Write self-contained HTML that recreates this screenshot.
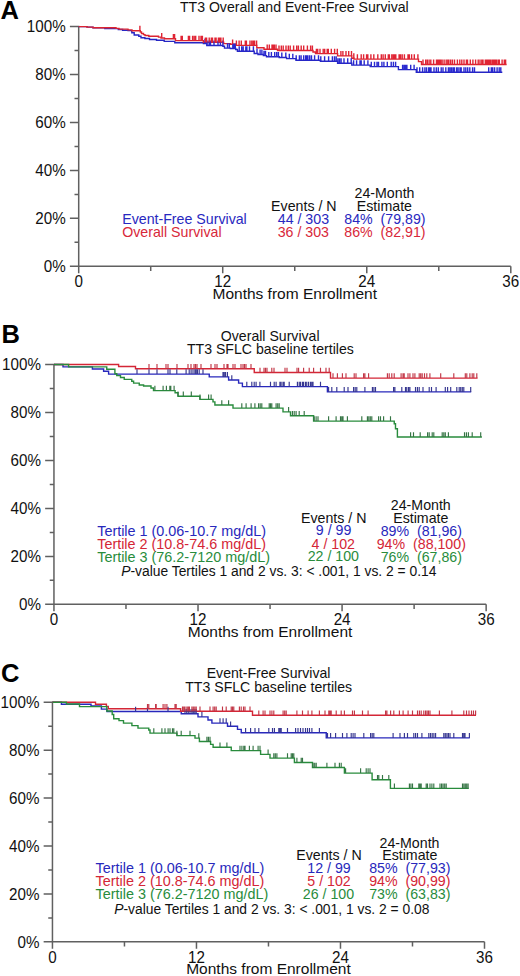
<!DOCTYPE html>
<html><head><meta charset="utf-8"><title>TT3 Survival</title>
<style>
html,body{margin:0;padding:0;background:#fff;}
body{width:520px;height:976px;overflow:hidden;}
svg{display:block;font-family:"Liberation Sans", sans-serif;}
</style></head>
<body>
<svg width="520" height="976" viewBox="0 0 520 976">
<rect width="520" height="976" fill="#fff"/>
<text x="0.4" y="18.6" font-size="25.5" text-anchor="start" fill="#000" font-weight="bold">A</text>
<text x="294.3" y="12.2" font-size="14.1" text-anchor="middle" fill="#111">TT3 Overall and Event-Free Survival</text>
<path d="M78.7,25.8V273.3 M69.9,266.3H510.8 M69.9,266.30H78.7 M74.5,242.33H78.7 M69.9,218.36H78.7 M74.5,194.39H78.7 M69.9,170.42H78.7 M74.5,146.45H78.7 M69.9,122.48H78.7 M74.5,98.51H78.7 M69.9,74.54H78.7 M74.5,50.57H78.7 M69.9,26.60H78.7 M78.70,266.3V273.3 M150.72,266.3V270.90000000000003 M222.73,266.3V273.3 M294.75,266.3V270.90000000000003 M366.77,266.3V273.3 M438.78,266.3V270.90000000000003 M510.80,266.3V273.3" stroke="#606060" stroke-width="1.5" fill="none"/>
<text transform="translate(65.7,272.05) scale(1,1.11)" font-size="15.2" text-anchor="end" fill="#111">0%</text>
<text transform="translate(65.7,224.11) scale(1,1.11)" font-size="15.2" text-anchor="end" fill="#111">20%</text>
<text transform="translate(65.7,176.17) scale(1,1.11)" font-size="15.2" text-anchor="end" fill="#111">40%</text>
<text transform="translate(65.7,128.23) scale(1,1.11)" font-size="15.2" text-anchor="end" fill="#111">60%</text>
<text transform="translate(65.7,80.29) scale(1,1.11)" font-size="15.2" text-anchor="end" fill="#111">80%</text>
<text transform="translate(65.7,32.35) scale(1,1.11)" font-size="15.2" text-anchor="end" fill="#111">100%</text>
<text transform="translate(78.70,287.00) scale(1,1.11)" font-size="15.2" text-anchor="middle" fill="#111">0</text>
<text transform="translate(222.73,287.00) scale(1,1.11)" font-size="15.2" text-anchor="middle" fill="#111">12</text>
<text transform="translate(366.77,287.00) scale(1,1.11)" font-size="15.2" text-anchor="middle" fill="#111">24</text>
<text transform="translate(510.80,287.00) scale(1,1.11)" font-size="15.2" text-anchor="middle" fill="#111">36</text>
<text x="294.75" y="298.50" font-size="15.5" text-anchor="middle" fill="#111">Months from Enrollment</text>
<path d="M78.7,26.6H87V27.1H93V27.8H104.8V28.6H118.3V29.5H122.6V30.3H128V30.6H131.8V32.8H134.2V35.0H138.8V36.2H141V37.8H144.9V38.5H149.5V39.5H156.5V40.2H164.2V41.4H174.8V42.7H203.4V43.6H206.8V45.5H222.9V46.3H224.5V48.1H230.4V48.5H235.7V49.5H237.4V51.2H254.2V53.5H258V54.5H263.4V55.6H266.5V56.8H279.2V57.5H286.6V58.6H296V60.2H320.4V61.2H337.6V63.2H351.8V65.1H370.2V66.6H398.4V69.6H416.3V72.2H502.3" stroke="#2626c4" stroke-width="1.4" fill="none" stroke-linejoin="miter"/>
<path d="M78.7,26.6H87V27.1H93V27.8H116V28.4H119V29.1H128V29.9H132V30.7H140.3V32.0H141.5V33.5H143.5V34.6H145V35.5H148.8V36.2H158.5V37.1H161V38.0H164.5V38.8H175.5V40.6H203.4V42.3H223.7V43.6H230.4V44.3H236V45.4H256.8V47.8H264V49.3H277.5V50.5H313V52.0H315.5V53.6H337.6V55.9H351.8V58.2H354V59.1H418.5V61.6H421.5V64.5H506.6" stroke="#dc2430" stroke-width="1.4" fill="none" stroke-linejoin="miter"/>
<path d="M205.0,43.60v-4.9 M207.0,45.50v-4.9 M209.1,45.50v-4.9 M210.5,45.50v-4.9 M214.0,45.50v-4.9 M218.0,45.50v-4.9 M220.4,45.50v-4.9 M222.9,45.50v-4.9 M227.5,48.10v-4.9 M229.3,48.10v-4.9 M232.8,48.50v-4.9 M234.2,48.50v-4.9 M235.3,48.50v-4.9 M239.2,51.20v-4.9 M241.7,51.20v-4.9 M243.2,51.20v-4.9 M245.8,51.20v-4.9 M246.9,51.20v-4.9 M249.5,51.20v-4.9 M253.4,51.20v-4.9 M257.0,53.50v-4.9 M260.1,54.50v-4.9 M261.9,54.50v-4.9 M264.0,55.60v-4.9 M265.5,55.60v-4.9 M268.8,56.80v-4.9 M271.4,56.80v-4.9 M274.7,56.80v-4.9 M276.7,56.80v-4.9 M278.4,56.80v-4.9 M281.8,57.50v-4.9 M285.8,57.50v-4.9 M289.3,58.60v-4.9 M292.8,58.60v-4.9 M296.2,60.20v-4.9 M299.4,60.20v-4.9 M301.1,60.20v-4.9 M303.7,60.20v-4.9 M305.7,60.20v-4.9 M306.8,60.20v-4.9 M307.9,60.20v-4.9 M309.7,60.20v-4.9 M311.5,60.20v-4.9 M314.6,60.20v-4.9 M318.5,60.20v-4.9 M320.8,61.20v-4.9 M324.6,61.20v-4.9 M328.6,61.20v-4.9 M332.4,61.20v-4.9 M334.5,61.20v-4.9 M336.2,61.20v-4.9 M337.9,63.20v-4.9 M339.5,63.20v-4.9 M341.1,63.20v-4.9 M344.0,63.20v-4.9 M347.7,63.20v-4.9 M351.2,63.20v-4.9 M353.6,65.10v-4.9 M356.6,65.10v-4.9 M360.0,65.10v-4.9 M361.2,65.10v-4.9 M364.2,65.10v-4.9 M367.9,65.10v-4.9 M371.3,66.60v-4.9 M374.5,66.60v-4.9 M377.0,66.60v-4.9 M378.5,66.60v-4.9 M381.9,66.60v-4.9 M383.9,66.60v-4.9 M387.3,66.60v-4.9 M391.2,66.60v-4.9 M393.4,66.60v-4.9 M395.6,66.60v-4.9 M402.6,69.60v-4.9 M404.1,69.60v-4.9 M405.5,69.60v-4.9 M406.9,69.60v-4.9 M410.7,69.60v-4.9 M414.1,69.60v-4.9 M417.0,72.20v-4.9 M419.7,72.20v-4.9 M422.6,72.20v-4.9 M424.9,72.20v-4.9 M426.6,72.20v-4.9 M428.7,72.20v-4.9 M430.0,72.20v-4.9 M431.0,72.20v-4.9 M434.0,72.20v-4.9 M436.3,72.20v-4.9 M438.3,72.20v-4.9 M441.2,72.20v-4.9 M443.0,72.20v-4.9 M445.8,72.20v-4.9 M448.4,72.20v-4.9 M449.9,72.20v-4.9 M451.4,72.20v-4.9 M453.0,72.20v-4.9 M454.4,72.20v-4.9 M456.6,72.20v-4.9 M458.1,72.20v-4.9 M460.0,72.20v-4.9 M461.2,72.20v-4.9 M464.0,72.20v-4.9 M465.8,72.20v-4.9 M467.7,72.20v-4.9 M469.8,72.20v-4.9 M472.6,72.20v-4.9 M474.5,72.20v-4.9 M488.7,72.20v-4.9 M491.3,72.20v-4.9 M492.7,72.20v-4.9 M494.6,72.20v-4.9 M497.1,72.20v-4.9 M499.2,72.20v-4.9 M500.8,72.20v-4.9" stroke="#2a2ad0" stroke-width="1.4" fill="none"/>
<path d="M139.9,30.70v-4.9 M161.7,38.00v-4.9 M173.4,38.80v-4.9 M174.6,38.80v-4.9 M181.1,40.60v-4.9 M182.3,40.60v-4.9 M188.4,40.60v-4.9 M189.6,40.60v-4.9 M192.6,40.60v-4.9 M194.2,40.60v-4.9 M195.7,40.60v-4.9 M199.0,40.60v-4.9 M201.0,40.60v-4.9 M202.4,40.60v-4.9 M205.4,42.30v-4.9 M206.6,42.30v-4.9 M209.2,42.30v-4.9 M211.3,42.30v-4.9 M212.5,42.30v-4.9 M215.0,42.30v-4.9 M216.1,42.30v-4.9 M218.4,42.30v-4.9 M219.6,42.30v-4.9 M220.9,42.30v-4.9 M223.2,42.30v-4.9 M232.6,44.30v-4.9 M236.4,45.40v-4.9 M239.1,45.40v-4.9 M241.3,45.40v-4.9 M245.3,45.40v-4.9 M246.4,45.40v-4.9 M250.0,45.40v-4.9 M251.8,45.40v-4.9 M253.3,45.40v-4.9 M254.6,45.40v-4.9 M256.6,45.40v-4.9 M267.2,49.30v-4.9 M269.3,49.30v-4.9 M272.0,49.30v-4.9 M273.2,49.30v-4.9 M274.3,49.30v-4.9 M276.0,49.30v-4.9 M279.0,50.50v-4.9 M281.3,50.50v-4.9 M283.2,50.50v-4.9 M286.0,50.50v-4.9 M288.3,50.50v-4.9 M290.2,50.50v-4.9 M293.6,50.50v-4.9 M296.7,50.50v-4.9 M298.4,50.50v-4.9 M301.2,50.50v-4.9 M303.7,50.50v-4.9 M307.4,50.50v-4.9 M310.6,50.50v-4.9 M312.4,50.50v-4.9 M316.4,53.60v-4.9 M317.7,53.60v-4.9 M320.0,53.60v-4.9 M323.2,53.60v-4.9 M324.7,53.60v-4.9 M327.2,53.60v-4.9 M328.3,53.60v-4.9 M331.3,53.60v-4.9 M334.6,53.60v-4.9 M337.3,53.60v-4.9 M340.9,55.90v-4.9 M342.9,55.90v-4.9 M346.0,55.90v-4.9 M348.7,55.90v-4.9 M351.5,55.90v-4.9 M353.8,58.20v-4.9 M357.4,59.10v-4.9 M361.2,59.10v-4.9 M363.6,59.10v-4.9 M366.6,59.10v-4.9 M367.8,59.10v-4.9 M370.9,59.10v-4.9 M373.8,59.10v-4.9 M377.8,59.10v-4.9 M381.3,59.10v-4.9 M383.1,59.10v-4.9 M385.3,59.10v-4.9 M388.3,59.10v-4.9 M389.4,59.10v-4.9 M391.8,59.10v-4.9 M393.3,59.10v-4.9 M394.6,59.10v-4.9 M395.8,59.10v-4.9 M399.1,59.10v-4.9 M400.5,59.10v-4.9 M402.2,59.10v-4.9 M404.4,59.10v-4.9 M408.0,59.10v-4.9 M409.3,59.10v-4.9 M411.6,59.10v-4.9 M414.3,59.10v-4.9 M417.9,59.10v-4.9 M423.0,64.50v-4.9 M425.7,64.50v-4.9 M427.3,64.50v-4.9 M429.1,64.50v-4.9 M430.8,64.50v-4.9 M433.6,64.50v-4.9 M436.5,64.50v-4.9 M437.8,64.50v-4.9 M439.2,64.50v-4.9 M440.6,64.50v-4.9 M442.1,64.50v-4.9 M444.1,64.50v-4.9 M446.2,64.50v-4.9 M447.8,64.50v-4.9 M448.8,64.50v-4.9 M450.6,64.50v-4.9 M452.4,64.50v-4.9 M454.5,64.50v-4.9 M457.4,64.50v-4.9 M459.8,64.50v-4.9 M461.8,64.50v-4.9 M464.0,64.50v-4.9 M466.4,64.50v-4.9 M467.5,64.50v-4.9 M470.3,64.50v-4.9 M472.9,64.50v-4.9 M475.6,64.50v-4.9 M478.2,64.50v-4.9 M480.0,64.50v-4.9 M481.8,64.50v-4.9 M483.0,64.50v-4.9 M485.3,64.50v-4.9 M486.4,64.50v-4.9 M487.5,64.50v-4.9 M488.9,64.50v-4.9 M490.3,64.50v-4.9 M491.9,64.50v-4.9 M493.1,64.50v-4.9 M494.1,64.50v-4.9 M495.4,64.50v-4.9 M496.6,64.50v-4.9 M498.3,64.50v-4.9 M499.3,64.50v-4.9 M502.1,64.50v-4.9 M504.3,64.50v-4.9 M505.6,64.50v-4.9" stroke="#e02434" stroke-width="1.4" fill="none"/>
<text x="122.2" y="224.1" font-size="14.2" text-anchor="start" fill="#2828c0">Event-Free Survival</text>
<text x="122.2" y="236.9" font-size="14.2" text-anchor="start" fill="#d8283a">Overall Survival</text>
<text x="303.85" y="210.7" font-size="14.2" text-anchor="middle" fill="#111">Events / N</text>
<text x="303.4" y="224.1" font-size="14.2" text-anchor="middle" fill="#2828c0">44 / 303</text>
<text x="303.3" y="237.0" font-size="14.2" text-anchor="middle" fill="#d8283a">36 / 303</text>
<text x="384.5" y="197.9" font-size="14.2" text-anchor="middle" fill="#111">24-Month</text>
<text x="384.4" y="210.8" font-size="14.2" text-anchor="middle" fill="#111">Estimate</text>
<text x="384.9" y="224.0" font-size="14.2" text-anchor="middle" fill="#2828c0">84%&#160;&#160;(79,89)</text>
<text x="384.9" y="237.0" font-size="14.2" text-anchor="middle" fill="#d8283a">86%&#160;&#160;(82,91)</text>
<text x="1.6" y="342.6" font-size="25.5" text-anchor="start" fill="#000" font-weight="bold">B</text>
<text x="270.2" y="340.5" font-size="14.1" text-anchor="middle" fill="#111">Overall Survival</text>
<text x="270.4" y="354.3" font-size="14.1" text-anchor="middle" fill="#111">TT3 SFLC baseline tertiles</text>
<path d="M53.95,363.7V611.35 M45.150000000000006,604.35H486.15 M45.150000000000006,604.35H53.95 M49.75,580.37H53.95 M45.150000000000006,556.38H53.95 M49.75,532.39H53.95 M45.150000000000006,508.41H53.95 M49.75,484.43H53.95 M45.150000000000006,460.44H53.95 M49.75,436.46H53.95 M45.150000000000006,412.47H53.95 M49.75,388.49H53.95 M45.150000000000006,364.50H53.95 M53.95,604.35V611.35 M125.98,604.35V608.95 M198.02,604.35V611.35 M270.05,604.35V608.95 M342.08,604.35V611.35 M414.12,604.35V608.95 M486.15,604.35V611.35" stroke="#606060" stroke-width="1.5" fill="none"/>
<text transform="translate(40.9,610.10) scale(1,1.11)" font-size="15.2" text-anchor="end" fill="#111">0%</text>
<text transform="translate(40.9,562.13) scale(1,1.11)" font-size="15.2" text-anchor="end" fill="#111">20%</text>
<text transform="translate(40.9,514.16) scale(1,1.11)" font-size="15.2" text-anchor="end" fill="#111">40%</text>
<text transform="translate(40.9,466.19) scale(1,1.11)" font-size="15.2" text-anchor="end" fill="#111">60%</text>
<text transform="translate(40.9,418.22) scale(1,1.11)" font-size="15.2" text-anchor="end" fill="#111">80%</text>
<text transform="translate(40.9,370.25) scale(1,1.11)" font-size="15.2" text-anchor="end" fill="#111">100%</text>
<text transform="translate(53.95,625.05) scale(1,1.11)" font-size="15.2" text-anchor="middle" fill="#111">0</text>
<text transform="translate(198.02,625.05) scale(1,1.11)" font-size="15.2" text-anchor="middle" fill="#111">12</text>
<text transform="translate(342.08,625.05) scale(1,1.11)" font-size="15.2" text-anchor="middle" fill="#111">24</text>
<text transform="translate(486.15,625.05) scale(1,1.11)" font-size="15.2" text-anchor="middle" fill="#111">36</text>
<text x="270.05" y="636.55" font-size="15.5" text-anchor="middle" fill="#111">Months from Enrollment</text>
<path d="M53.95,364.5H63V366.9H92.4V369H103.6V371.25H108.6V374.1H209.25V376.9H228.6V380H238.6V383.1H242.4V386.6H327.4V391.9H471.2" stroke="#2828bc" stroke-width="1.4" fill="none" stroke-linejoin="miter"/>
<path d="M53.95,364.5H118.6V366.5H135.5V368.75H254.25V372.5H330.5V378.1H477.6" stroke="#d42636" stroke-width="1.4" fill="none" stroke-linejoin="miter"/>
<path d="M53.95,364.5H68.6V366.9H106.75V369.2H114.9V373.75H116.75V375.6H120.5V377.5H124.25V379.4H131.75V381.25H133.6V383.1H139.25V385H143.6V386.0H151V388H153.5V390.6H175.1V392.8H178V396.2H199.9V399.4H213V401.9H214.9V405H233V408.1H283V411.9H290.5V415.8H313.6V421.1H394.25V423.75H395.5V428.75H397.4V437H481.9" stroke="#288c3c" stroke-width="1.4" fill="none" stroke-linejoin="miter"/>
<path d="M137.0,374.10v-4.8 M149.0,374.10v-4.8 M157.0,374.10v-4.8 M168.0,374.10v-4.8 M170.0,374.10v-4.8 M176.8,374.10v-4.8 M186.1,374.10v-4.8 M189.2,374.10v-4.8 M191.1,374.10v-4.8 M193.0,374.10v-4.8 M194.9,374.10v-4.8 M196.1,374.10v-4.8 M197.4,374.10v-4.8 M199.2,374.10v-4.8 M203.0,374.10v-4.8 M223.0,376.90v-4.8 M224.2,376.90v-4.8 M225.5,376.90v-4.8 M227.4,376.90v-4.8 M231.8,380.00v-4.8 M246.8,386.60v-4.8 M251.8,386.60v-4.8 M254.2,386.60v-4.8 M256.1,386.60v-4.8 M259.9,386.60v-4.8 M270.5,386.60v-4.8 M274.2,386.60v-4.8 M276.1,386.60v-4.8 M279.9,386.60v-4.8 M281.1,386.60v-4.8 M283.0,386.60v-4.8 M284.2,386.60v-4.8 M289.2,386.60v-4.8 M297.4,386.60v-4.8 M299.2,386.60v-4.8 M300.5,386.60v-4.8 M302.4,386.60v-4.8 M303.6,386.60v-4.8 M305.5,386.60v-4.8 M306.8,386.60v-4.8 M308.6,386.60v-4.8 M310.5,386.60v-4.8 M311.8,386.60v-4.8 M313.0,386.60v-4.8 M320.5,386.60v-4.8 M328.6,391.90v-4.8 M331.8,391.90v-4.8 M336.8,391.90v-4.8 M344.2,391.90v-4.8 M348.0,391.90v-4.8 M353.6,391.90v-4.8 M355.2,391.90v-4.8 M356.8,391.90v-4.8 M364.9,391.90v-4.8 M372.4,391.90v-4.8 M373.9,391.90v-4.8 M375.5,391.90v-4.8 M393.6,391.90v-4.8 M394.9,391.90v-4.8 M401.8,391.90v-4.8 M405.5,391.90v-4.8 M406.8,391.90v-4.8 M408.6,391.90v-4.8 M409.9,391.90v-4.8 M415.5,391.90v-4.8 M417.4,391.90v-4.8 M419.2,391.90v-4.8 M423.0,391.90v-4.8 M429.2,391.90v-4.8 M431.5,391.90v-4.8 M436.1,391.90v-4.8 M445.3,391.90v-4.8 M447.6,391.90v-4.8 M450.7,391.90v-4.8 M456.8,391.90v-4.8 M459.2,391.90v-4.8 M460.7,391.90v-4.8 M462.3,391.90v-4.8 M463.8,391.90v-4.8 M470.7,391.90v-4.8" stroke="#363690" stroke-width="1.15" fill="none"/>
<path d="M149.0,368.75v-4.8 M157.0,368.75v-4.8 M166.0,368.75v-4.8 M168.0,368.75v-4.8 M177.0,368.75v-4.8 M188.0,368.75v-4.8 M191.0,368.75v-4.8 M194.0,368.75v-4.8 M195.5,368.75v-4.8 M197.0,368.75v-4.8 M201.0,368.75v-4.8 M211.0,368.75v-4.8 M215.0,368.75v-4.8 M217.0,368.75v-4.8 M224.0,368.75v-4.8 M227.0,368.75v-4.8 M228.0,368.75v-4.8 M233.0,368.75v-4.8 M235.0,368.75v-4.8 M241.0,368.75v-4.8 M243.0,368.75v-4.8 M244.5,368.75v-4.8 M246.0,368.75v-4.8 M251.0,368.75v-4.8 M260.0,372.50v-4.8 M264.0,372.50v-4.8 M265.5,372.50v-4.8 M267.0,372.50v-4.8 M271.8,372.50v-4.8 M274.0,372.50v-4.8 M285.0,372.50v-4.8 M287.0,372.50v-4.8 M297.0,372.50v-4.8 M298.6,372.50v-4.8 M303.6,372.50v-4.8 M309.2,372.50v-4.8 M313.6,372.50v-4.8 M320.5,372.50v-4.8 M326.0,372.50v-4.8 M329.2,372.50v-4.8 M333.0,378.10v-4.8 M337.4,378.10v-4.8 M342.4,378.10v-4.8 M346.0,378.10v-4.8 M354.2,378.10v-4.8 M356.0,378.10v-4.8 M363.6,378.10v-4.8 M364.9,378.10v-4.8 M368.6,378.10v-4.8 M387.4,378.10v-4.8 M389.2,378.10v-4.8 M391.8,378.10v-4.8 M394.2,378.10v-4.8 M401.1,378.10v-4.8 M403.0,378.10v-4.8 M404.2,378.10v-4.8 M408.0,378.10v-4.8 M409.9,378.10v-4.8 M413.0,378.10v-4.8 M414.9,378.10v-4.8 M419.2,378.10v-4.8 M420.7,378.10v-4.8 M422.2,378.10v-4.8 M424.5,378.10v-4.8 M426.8,378.10v-4.8 M429.9,378.10v-4.8 M440.7,378.10v-4.8 M453.8,378.10v-4.8 M465.3,378.10v-4.8 M466.8,378.10v-4.8 M469.9,378.10v-4.8 M472.2,378.10v-4.8 M473.8,378.10v-4.8 M476.8,378.10v-4.8" stroke="#c23646" stroke-width="1.15" fill="none"/>
<path d="M154.9,390.60v-4.8 M163.1,390.60v-4.8 M166.4,390.60v-4.8 M169.8,390.60v-4.8 M170.8,390.60v-4.8 M174.1,390.60v-4.8 M178.0,396.20v-4.8 M183.3,396.20v-4.8 M191.3,396.20v-4.8 M200.0,399.40v-4.8 M208.6,399.40v-4.8 M211.1,399.40v-4.8 M221.8,405.00v-4.8 M228.6,405.00v-4.8 M241.8,408.10v-4.8 M246.1,408.10v-4.8 M251.1,408.10v-4.8 M254.9,408.10v-4.8 M258.6,408.10v-4.8 M260.2,408.10v-4.8 M261.8,408.10v-4.8 M269.2,408.10v-4.8 M270.5,408.10v-4.8 M271.8,408.10v-4.8 M276.1,408.10v-4.8 M277.7,408.10v-4.8 M279.2,408.10v-4.8 M288.6,411.90v-4.8 M292.4,415.80v-4.8 M294.2,415.80v-4.8 M296.1,415.80v-4.8 M299.2,415.80v-4.8 M304.2,415.80v-4.8 M314.2,421.10v-4.8 M316.1,421.10v-4.8 M318.0,421.10v-4.8 M328.6,421.10v-4.8 M336.1,421.10v-4.8 M340.5,421.10v-4.8 M341.8,421.10v-4.8 M343.0,421.10v-4.8 M347.4,421.10v-4.8 M361.8,421.10v-4.8 M367.4,421.10v-4.8 M368.8,421.10v-4.8 M370.3,421.10v-4.8 M371.8,421.10v-4.8 M378.6,421.10v-4.8 M380.5,421.10v-4.8 M383.6,421.10v-4.8 M390.5,421.10v-4.8 M410.6,437.00v-4.8 M413.5,437.00v-4.8 M420.2,437.00v-4.8 M427.6,437.00v-4.8 M429.2,437.00v-4.8 M432.2,437.00v-4.8 M433.8,437.00v-4.8 M442.2,437.00v-4.8 M443.8,437.00v-4.8 M445.3,437.00v-4.8 M448.4,437.00v-4.8 M464.5,437.00v-4.8 M466.4,437.00v-4.8 M468.4,437.00v-4.8 M472.2,437.00v-4.8 M480.7,437.00v-4.8" stroke="#357444" stroke-width="1.15" fill="none"/>
<text x="97.2" y="535.9" font-size="14.4" text-anchor="start" fill="#2828bc">Tertile 1 (0.06-10.7 mg/dL)</text>
<text x="97.2" y="548.6" font-size="14.4" text-anchor="start" fill="#d42636">Tertile 2 (10.8-74.6 mg/dL)</text>
<text x="97.2" y="562.1" font-size="14.4" text-anchor="start" fill="#288c3c">Tertile 3 (76.2-7120 mg/dL)</text>
<text x="121.2" y="576.3" font-size="13.85" text-anchor="start" fill="#111"><tspan font-style="italic">P</tspan>-value Tertiles 1 and 2 vs. 3: &lt; .001, 1 vs. 2 = 0.14</text>
<text x="333.75" y="522.9" font-size="14.2" text-anchor="middle" fill="#111">Events / N</text>
<text x="333.6" y="535.4" font-size="14.2" text-anchor="middle" fill="#2828bc">9 / 99</text>
<text x="333.3" y="548.5" font-size="14.2" text-anchor="middle" fill="#d42636">4 / 102</text>
<text x="333.3" y="561.3" font-size="14.2" text-anchor="middle" fill="#288c3c">22 / 100</text>
<text x="420.8" y="509.5" font-size="14.2" text-anchor="middle" fill="#111">24-Month</text>
<text x="420.8" y="522.8" font-size="14.2" text-anchor="middle" fill="#111">Estimate</text>
<text x="421.3" y="535.5" font-size="14.2" text-anchor="middle" fill="#2828bc">89%&#160;&#160;(81,96)</text>
<text x="421.3" y="548.6" font-size="14.2" text-anchor="middle" fill="#d42636">94%&#160;&#160;(88,100)</text>
<text x="421.3" y="561.6" font-size="14.2" text-anchor="middle" fill="#288c3c">76%&#160;&#160;(67,86)</text>
<text x="1.1" y="681.8" font-size="25.5" text-anchor="start" fill="#000" font-weight="bold">C</text>
<text x="268.6" y="677.9" font-size="14.1" text-anchor="middle" fill="#111">Event-Free Survival</text>
<text x="268.7" y="691.7" font-size="14.1" text-anchor="middle" fill="#111">TT3 SFLC baseline tertiles</text>
<path d="M52.45,701.4000000000001V948.85 M43.650000000000006,941.85H484.5 M43.650000000000006,941.85H52.45 M48.25,917.88H52.45 M43.650000000000006,893.92H52.45 M48.25,869.96H52.45 M43.650000000000006,845.99H52.45 M48.25,822.03H52.45 M43.650000000000006,798.06H52.45 M48.25,774.10H52.45 M43.650000000000006,750.13H52.45 M48.25,726.17H52.45 M43.650000000000006,702.20H52.45 M52.45,941.85V948.85 M124.46,941.85V946.45 M196.47,941.85V948.85 M268.48,941.85V946.45 M340.48,941.85V948.85 M412.49,941.85V946.45 M484.50,941.85V948.85" stroke="#606060" stroke-width="1.5" fill="none"/>
<text transform="translate(39.4,947.60) scale(1,1.11)" font-size="15.2" text-anchor="end" fill="#111">0%</text>
<text transform="translate(39.4,899.67) scale(1,1.11)" font-size="15.2" text-anchor="end" fill="#111">20%</text>
<text transform="translate(39.4,851.74) scale(1,1.11)" font-size="15.2" text-anchor="end" fill="#111">40%</text>
<text transform="translate(39.4,803.81) scale(1,1.11)" font-size="15.2" text-anchor="end" fill="#111">60%</text>
<text transform="translate(39.4,755.88) scale(1,1.11)" font-size="15.2" text-anchor="end" fill="#111">80%</text>
<text transform="translate(39.4,707.95) scale(1,1.11)" font-size="15.2" text-anchor="end" fill="#111">100%</text>
<text transform="translate(52.45,962.55) scale(1,1.11)" font-size="15.2" text-anchor="middle" fill="#111">0</text>
<text transform="translate(196.47,962.55) scale(1,1.11)" font-size="15.2" text-anchor="middle" fill="#111">12</text>
<text transform="translate(340.48,962.55) scale(1,1.11)" font-size="15.2" text-anchor="middle" fill="#111">24</text>
<text transform="translate(484.50,962.55) scale(1,1.11)" font-size="15.2" text-anchor="middle" fill="#111">36</text>
<text x="268.48" y="974.05" font-size="15.5" text-anchor="middle" fill="#111">Months from Enrollment</text>
<path d="M52.45,702.2H61.4V704.2H91V706H101.4V709.1H107V711.5H181.25V713.75H198V716.9H208V720H211.9V723.1H227.5V726.25H237.5V729.4H241.25V732.7H326.25V737.9H469.75" stroke="#2828bc" stroke-width="1.4" fill="none" stroke-linejoin="miter"/>
<path d="M52.45,702.2H95.5V704.2H106.4V706.4H108.3V708.7H180.6V711.25H252.5V715.25H476" stroke="#d42636" stroke-width="1.4" fill="none" stroke-linejoin="miter"/>
<path d="M52.45,702.2H66.4V704H79.5V706.6H106.8V711H112.2V714.5H113.7V718.7H119V720.6H123.5V723.1H131.9V725.6H138V728.1H148.75V730H150V733.1H176.9V735.6H195V738.1H199.4V741.5H210.6V744.4H213.1V747.25H231.25V750.6H260.6V754.4H270V758.1H294.4V762.5H312.5V767.5H344.4V773.1H372.1V779.75H390.4V788.4H468.75" stroke="#288c3c" stroke-width="1.4" fill="none" stroke-linejoin="miter"/>
<path d="M135.6,711.50v-4.8 M147.5,711.50v-4.8 M168.0,711.50v-4.8 M185.0,713.75v-4.8 M186.7,713.75v-4.8 M188.3,713.75v-4.8 M190.0,713.75v-4.8 M191.9,713.75v-4.8 M193.3,713.75v-4.8 M194.8,713.75v-4.8 M196.2,713.75v-4.8 M201.9,716.90v-4.8 M220.0,723.10v-4.8 M223.1,723.10v-4.8 M226.2,723.10v-4.8 M230.6,726.25v-4.8 M245.6,732.70v-4.8 M250.6,732.70v-4.8 M255.0,732.70v-4.8 M258.8,732.70v-4.8 M268.8,732.70v-4.8 M272.5,732.70v-4.8 M274.4,732.70v-4.8 M278.8,732.70v-4.8 M280.0,732.70v-4.8 M281.2,732.70v-4.8 M287.5,732.70v-4.8 M295.6,732.70v-4.8 M298.0,732.70v-4.8 M300.5,732.70v-4.8 M303.0,732.70v-4.8 M305.5,732.70v-4.8 M307.5,732.70v-4.8 M309.5,732.70v-4.8 M311.9,732.70v-4.8 M319.4,732.70v-4.8 M327.5,737.90v-4.8 M330.6,737.90v-4.8 M335.6,737.90v-4.8 M342.5,737.90v-4.8 M346.9,737.90v-4.8 M351.2,737.90v-4.8 M353.1,737.90v-4.8 M355.0,737.90v-4.8 M363.8,737.90v-4.8 M370.6,737.90v-4.8 M372.2,737.90v-4.8 M373.8,737.90v-4.8 M393.1,737.90v-4.8 M400.0,737.90v-4.8 M404.4,737.90v-4.8 M407.5,737.90v-4.8 M413.8,737.90v-4.8 M415.6,737.90v-4.8 M417.5,737.90v-4.8 M421.9,737.90v-4.8 M428.8,737.90v-4.8 M430.5,737.90v-4.8 M432.2,737.90v-4.8 M433.9,737.90v-4.8 M435.6,737.90v-4.8 M443.8,737.90v-4.8 M445.3,737.90v-4.8 M446.9,737.90v-4.8 M448.4,737.90v-4.8 M450.0,737.90v-4.8 M453.8,737.90v-4.8 M462.5,737.90v-4.8 M463.8,737.90v-4.8 M465.0,737.90v-4.8 M469.4,737.90v-4.8" stroke="#363690" stroke-width="1.15" fill="none"/>
<path d="M147.5,708.70v-4.8 M148.8,708.70v-4.8 M155.6,708.70v-4.8 M156.2,708.70v-4.8 M163.1,708.70v-4.8 M165.0,708.70v-4.8 M166.9,708.70v-4.8 M175.0,708.70v-4.8 M176.2,708.70v-4.8 M182.5,711.25v-4.8 M183.8,711.25v-4.8 M185.0,711.25v-4.8 M186.9,711.25v-4.8 M188.2,711.25v-4.8 M189.4,711.25v-4.8 M191.9,711.25v-4.8 M193.3,711.25v-4.8 M194.8,711.25v-4.8 M196.2,711.25v-4.8 M200.0,711.25v-4.8 M210.0,711.25v-4.8 M213.1,711.25v-4.8 M214.7,711.25v-4.8 M216.2,711.25v-4.8 M222.5,711.25v-4.8 M226.2,711.25v-4.8 M231.2,711.25v-4.8 M232.5,711.25v-4.8 M233.8,711.25v-4.8 M239.4,711.25v-4.8 M241.2,711.25v-4.8 M243.5,711.25v-4.8 M245.0,711.25v-4.8 M250.0,711.25v-4.8 M258.8,715.25v-4.8 M263.1,715.25v-4.8 M265.0,715.25v-4.8 M270.0,715.25v-4.8 M271.9,715.25v-4.8 M273.8,715.25v-4.8 M283.1,715.25v-4.8 M284.7,715.25v-4.8 M286.2,715.25v-4.8 M296.9,715.25v-4.8 M302.5,715.25v-4.8 M308.1,715.25v-4.8 M311.9,715.25v-4.8 M319.4,715.25v-4.8 M325.0,715.25v-4.8 M328.8,715.25v-4.8 M330.0,715.25v-4.8 M331.2,715.25v-4.8 M336.2,715.25v-4.8 M341.2,715.25v-4.8 M344.4,715.25v-4.8 M352.5,715.25v-4.8 M354.4,715.25v-4.8 M362.5,715.25v-4.8 M368.1,715.25v-4.8 M385.6,715.25v-4.8 M386.9,715.25v-4.8 M390.6,715.25v-4.8 M393.8,715.25v-4.8 M399.4,715.25v-4.8 M403.1,715.25v-4.8 M408.1,715.25v-4.8 M412.5,715.25v-4.8 M417.5,715.25v-4.8 M419.4,715.25v-4.8 M421.2,715.25v-4.8 M423.8,715.25v-4.8 M425.6,715.25v-4.8 M427.1,715.25v-4.8 M428.5,715.25v-4.8 M430.0,715.25v-4.8 M439.4,715.25v-4.8 M451.9,715.25v-4.8 M463.8,715.25v-4.8 M466.5,715.25v-4.8 M469.0,715.25v-4.8 M471.5,715.25v-4.8 M473.5,715.25v-4.8 M475.6,715.25v-4.8" stroke="#c23646" stroke-width="1.15" fill="none"/>
<path d="M153.8,733.10v-4.8 M161.9,733.10v-4.8 M165.0,733.10v-4.8 M168.1,733.10v-4.8 M170.0,733.10v-4.8 M172.5,733.10v-4.8 M173.8,733.10v-4.8 M176.9,735.60v-4.8 M181.2,735.60v-4.8 M190.0,735.60v-4.8 M198.8,738.10v-4.8 M206.9,741.50v-4.8 M208.4,741.50v-4.8 M210.0,741.50v-4.8 M220.0,747.25v-4.8 M226.9,747.25v-4.8 M240.0,750.60v-4.8 M241.9,750.60v-4.8 M243.8,750.60v-4.8 M245.0,750.60v-4.8 M249.4,750.60v-4.8 M253.1,750.60v-4.8 M258.1,750.60v-4.8 M260.0,750.60v-4.8 M268.1,754.40v-4.8 M273.8,758.10v-4.8 M275.3,758.10v-4.8 M276.9,758.10v-4.8 M287.5,758.10v-4.8 M291.2,758.10v-4.8 M292.5,758.10v-4.8 M293.8,758.10v-4.8 M296.9,762.50v-4.8 M301.2,762.50v-4.8 M302.5,762.50v-4.8 M313.1,767.50v-4.8 M314.7,767.50v-4.8 M316.2,767.50v-4.8 M326.9,767.50v-4.8 M335.0,767.50v-4.8 M339.4,767.50v-4.8 M341.2,767.50v-4.8 M345.6,773.10v-4.8 M360.6,773.10v-4.8 M366.2,773.10v-4.8 M368.1,773.10v-4.8 M370.0,773.10v-4.8 M377.5,779.75v-4.8 M378.8,779.75v-4.8 M382.5,779.75v-4.8 M388.8,779.75v-4.8 M394.4,788.40v-4.8 M409.4,788.40v-4.8 M410.9,788.40v-4.8 M412.5,788.40v-4.8 M418.8,788.40v-4.8 M420.0,788.40v-4.8 M421.2,788.40v-4.8 M426.2,788.40v-4.8 M427.5,788.40v-4.8 M430.0,788.40v-4.8 M431.9,788.40v-4.8 M433.8,788.40v-4.8 M440.0,788.40v-4.8 M441.6,788.40v-4.8 M443.1,788.40v-4.8 M444.7,788.40v-4.8 M446.2,788.40v-4.8 M462.5,788.40v-4.8 M463.9,788.40v-4.8 M465.3,788.40v-4.8 M466.7,788.40v-4.8 M468.1,788.40v-4.8" stroke="#357444" stroke-width="1.15" fill="none"/>
<text x="95.6" y="873.2" font-size="14.4" text-anchor="start" fill="#2828bc">Tertile 1 (0.06-10.7 mg/dL)</text>
<text x="95.6" y="886.2" font-size="14.4" text-anchor="start" fill="#d42636">Tertile 2 (10.8-74.6 mg/dL)</text>
<text x="95.6" y="899.4" font-size="14.4" text-anchor="start" fill="#288c3c">Tertile 3 (76.2-7120 mg/dL)</text>
<text x="114.2" y="914.0" font-size="13.85" text-anchor="start" fill="#111"><tspan font-style="italic">P</tspan>-value Tertiles 1 and 2 vs. 3: &lt; .001, 1 vs. 2 = 0.08</text>
<text x="329.0" y="860.3" font-size="14.2" text-anchor="middle" fill="#111">Events / N</text>
<text x="329.0" y="872.9" font-size="14.2" text-anchor="middle" fill="#2828bc">12 / 99</text>
<text x="329.0" y="886.2" font-size="14.2" text-anchor="middle" fill="#d42636">5 / 102</text>
<text x="328.5" y="899.2" font-size="14.2" text-anchor="middle" fill="#288c3c">26 / 100</text>
<text x="409.5" y="847.5" font-size="14.2" text-anchor="middle" fill="#111">24-Month</text>
<text x="409.8" y="860.2" font-size="14.2" text-anchor="middle" fill="#111">Estimate</text>
<text x="409.8" y="873.1" font-size="14.2" text-anchor="middle" fill="#2828bc">85%&#160;&#160;(77,93)</text>
<text x="409.8" y="886.2" font-size="14.2" text-anchor="middle" fill="#d42636">94%&#160;&#160;(90,99)</text>
<text x="409.8" y="899.3" font-size="14.2" text-anchor="middle" fill="#288c3c">73%&#160;&#160;(63,83)</text>
</svg>
</body></html>
